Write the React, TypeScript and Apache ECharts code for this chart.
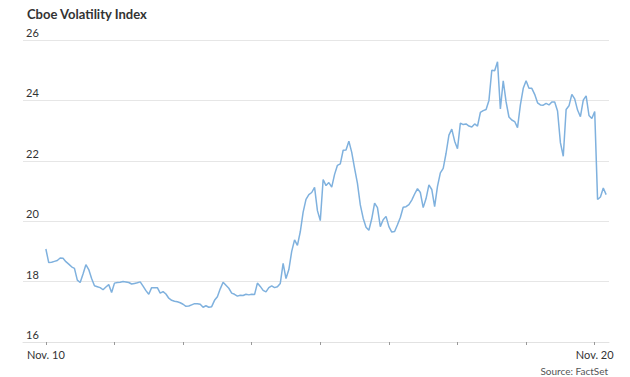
import React, { useEffect, useRef } from "react";
import * as echarts from "echarts";

const title = "Cboe Volatility Index";
const source = "Source: FactSet";
const dayLabels = ["Nov. 10", "Nov. 11", "Nov. 12", "Nov. 13", "Nov. 14", "Nov. 17", "Nov. 18", "Nov. 19", "Nov. 20"];
const pointsPerDay = 24;
const yTicks = [16, 18, 20, 22, 24, 26];

const vix: number[] = [
  19.08, 18.63, 18.64, 18.67, 18.70, 18.78, 18.77, 18.66, 18.58, 18.49,
  18.44, 18.05, 17.97, 18.25, 18.56, 18.40, 18.10, 17.86, 17.83, 17.80,
  17.73, 17.82, 17.90, 17.64, 17.95, 17.97, 17.98, 18.00, 17.99, 17.97,
  17.92, 17.94, 17.96, 17.99, 17.85, 17.70, 17.58, 17.80, 17.80, 17.80,
  17.62, 17.67, 17.59, 17.45, 17.38, 17.35, 17.33, 17.30, 17.25, 17.18,
  17.19, 17.23, 17.27, 17.27, 17.25, 17.15, 17.20, 17.15, 17.17, 17.38,
  17.50, 17.76, 17.98, 17.88, 17.78, 17.62, 17.58, 17.52, 17.55, 17.54,
  17.58, 17.56, 17.58, 17.57, 17.95, 17.84, 17.71, 17.66, 17.80, 17.86,
  17.80, 17.83, 17.94, 18.60, 18.10, 18.40, 19.00, 19.38, 19.20, 19.65,
  20.30, 20.72, 20.88, 20.95, 21.12, 20.35, 20.02, 21.38, 21.18, 21.28,
  21.13, 21.55, 21.85, 21.90, 22.35, 22.36, 22.65, 22.28, 21.75, 21.25,
  20.54, 20.10, 19.80, 19.70, 20.08, 20.60, 20.45, 19.82, 20.05, 20.16,
  19.82, 19.64, 19.66, 19.88, 20.12, 20.46, 20.48, 20.55, 20.70, 20.90,
  21.08, 20.95, 20.45, 20.75, 21.20, 21.05, 20.48, 21.15, 21.60, 21.75,
  22.25, 22.85, 23.05, 22.65, 22.40, 23.25, 23.20, 23.22, 23.15, 23.12,
  23.22, 23.15, 23.60, 23.66, 23.70, 24.00, 25.00, 24.98, 25.28, 23.72,
  24.65, 23.95, 23.45, 23.35, 23.30, 23.10, 23.85, 24.40, 24.65, 24.40,
  24.40, 24.20, 23.92, 23.85, 23.84, 23.90, 23.85, 23.95, 23.95, 23.65,
  22.60, 22.15, 23.70, 23.82, 24.20, 24.05, 23.68, 23.46, 24.01, 24.15,
  23.50, 23.40, 23.63, 20.72, 20.80, 21.10, 20.88,
];

export default function App() {
  const ref = useRef<HTMLDivElement>(null);
  useEffect(() => {
    if (!ref.current) return;
    const chart = echarts.init(ref.current, null, { renderer: "svg" });
    const dayTicks = dayLabels.map((_, i) => i * pointsPerDay);
    const lastTick = dayTicks[dayTicks.length - 1];
    const font = "Lato, 'Noto Sans', sans-serif";
    chart.setOption({
      animation: false,
      backgroundColor: "#ffffff",
      title: {
        text: title,
        left: 22,
        top: 2,
        textStyle: { fontFamily: font, fontSize: 13, fontWeight: "bold", color: "#333333" },
      },
      graphic: [
        {
          type: "text",
          right: 22,
          top: 366,
          style: { text: source, fontFamily: font, fontSize: 10, fill: "#555555" },
        },
      ],
      grid: { left: 23, right: 21, top: 40, bottom: 35, outerBoundsMode: "none" },
      xAxis: {
        type: "value",
        min: -8,
        max: 197,
        splitLine: { show: false },
        axisLine: { show: true, lineStyle: { color: "#e2e2e2", width: 1 } },
        axisTick: {
          show: true,
          customValues: dayTicks,
          length: 3,
          lineStyle: { color: "#999999" },
        },
        axisLabel: {
          customValues: [0, lastTick],
          formatter: (v: number) => dayLabels[Math.round(v / pointsPerDay)] ?? "",
          fontFamily: font,
          fontSize: 11,
          color: "#333333",
          margin: 7,
        },
      },
      yAxis: {
        type: "value",
        min: yTicks[0],
        max: yTicks[yTicks.length - 1],
        interval: 2,
        axisLine: { show: false },
        axisTick: { show: false },
        splitLine: { lineStyle: { color: "#e6e6e6", width: 1 } },
        axisLabel: {
          inside: true,
          margin: 3,
          align: "left",
          verticalAlign: "bottom",
          padding: [0, 0, 2, 0],
          fontFamily: font,
          fontSize: 11,
          color: "#333333",
        },
      },
      series: [
        {
          type: "line",
          data: vix.map((v, i) => [i, v]),
          showSymbol: false,
          symbol: "none",
          lineStyle: { color: "#7fb1de", width: 1.5 },
          clip: false,
        },
      ],
    });
    return () => chart.dispose();
  }, []);
  return (
    <div
      ref={ref}
      style={{ position: "fixed", left: 0, top: 0, width: 630, height: 377, background: "#fff" }}
    />
  );
}
